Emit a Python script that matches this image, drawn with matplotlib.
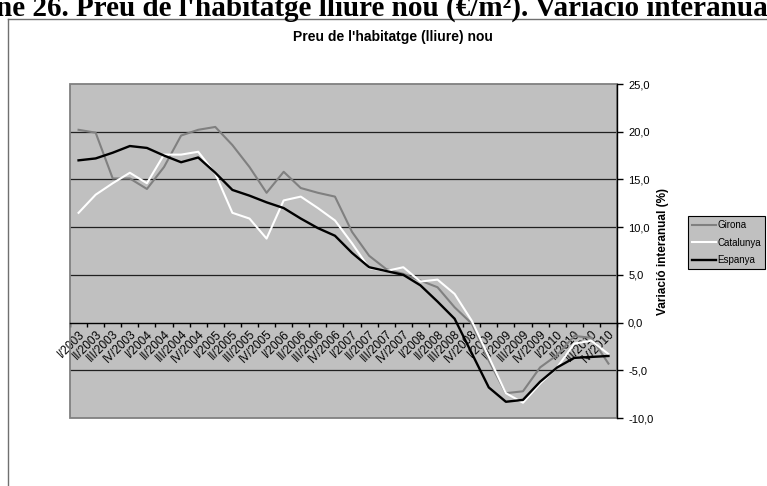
import matplotlib
matplotlib.use("Agg")
import matplotlib.pyplot as plt
from matplotlib.lines import Line2D
from matplotlib.patches import Rectangle

plt.rcParams['font.family'] = ['Liberation Sans', 'DejaVu Sans']

quarters = ["I", "II", "III", "IV"]
years = [2003, 2004, 2005, 2006, 2007, 2008, 2009, 2010]
categories = [f"{q}/{y}" for y in years for q in quarters]

girona = [20.2, 19.9, 15.1, 15.1, 14.0, 16.3, 19.6, 20.2, 20.5, 18.6, 16.3, 13.6,
          15.8, 14.1, 13.6, 13.2, 9.5, 7.0, 5.6, 5.1, 4.4, 3.7, 1.6, -0.1,
          -4.0, -7.4, -7.2, -4.7, -3.4, -1.4, -1.6, -4.3]
catalunya = [11.5, 13.4, 14.6, 15.7, 14.6, 17.6, 17.6, 17.9, 15.6, 11.5, 10.9, 8.8,
             12.8, 13.2, 12.0, 10.7, 8.3, 5.7, 5.4, 5.8, 4.3, 4.5, 3.0, 0.2,
             -3.6, -7.4, -8.4, -6.4, -4.7, -2.2, -1.9, -3.3]
espanya = [17.0, 17.2, 17.8, 18.5, 18.3, 17.5, 16.8, 17.3, 15.7, 13.9, 13.3, 12.6,
           12.0, 10.9, 9.9, 9.1, 7.3, 5.8, 5.4, 5.0, 3.9, 2.2, 0.4, -3.2,
           -6.8, -8.3, -8.1, -6.2, -4.7, -3.7, -3.6, -3.5]
series_names = ["Girona", "Catalunya", "Espanya"]
y_ticks = [-10, -5, 0, 5, 10, 15, 20, 25]

W, H = 767, 486
fig = plt.figure(figsize=(W / 100, H / 100), dpi=100)

# Outer heading (clipped at the page edges in the reference)
fig.text(-4 / W, 1 - 16 / H,
         "ne 26. Preu de l'habitatge lliure nou (€/m²). Variació interanual",
         family='Liberation Serif', weight='bold', size=21, ha='left', va='baseline')

# chart frame
fig.add_artist(Line2D([8 / W, 8 / W], [0, 1 - 19 / H], transform=fig.transFigure,
                      color='#707070', lw=1))
fig.add_artist(Line2D([8 / W, 1], [1 - 19 / H, 1 - 19 / H], transform=fig.transFigure,
                      color='#707070', lw=1))

ax = fig.add_axes([70 / W, 68 / H, 547 / W, 334 / H])
ax.set_facecolor('#C0C0C0')
x = list(range(len(categories)))

l1, = ax.plot(x, girona, color='#808080', lw=1.5, zorder=3)
l2, = ax.plot(x, catalunya, color='white', lw=1.5, zorder=4)
l3, = ax.plot(x, espanya, color='black', lw=1.7, zorder=5)

ax.set_xlim(-0.5, len(categories) - 0.5)
ax.set_ylim(-10, 25)

for v in y_ticks:
    if v not in (-10, 0, 25):
        ax.axhline(v, color='#202020', lw=0.9, zorder=1)

for s in ['left', 'top']:
    ax.spines[s].set_visible(False)
ax.add_patch(Rectangle((0, 0), 1, 1, transform=ax.transAxes, fill=False,
                       edgecolor='#808080', lw=1.3, zorder=2, clip_on=False))
ax.spines['bottom'].set_position(('data', 0))
ax.spines['bottom'].set_color('black')
ax.spines['bottom'].set_linewidth(1)
ax.spines['bottom'].set_zorder(2.5)
ax.spines['right'].set_color('black')
ax.spines['right'].set_linewidth(1)

ax.yaxis.tick_right()
ax.set_yticks(y_ticks)
ax.set_yticklabels([f"{v:.1f}".replace('.', ',') for v in y_ticks], fontsize=8)
ax.tick_params(axis='y', direction='out', length=4, width=1, pad=4, colors='black')

ax.set_xticks(x)
ax.set_xticklabels(categories, rotation=45, ha='right', va='top',
                   rotation_mode='anchor', fontsize=8.5)
ax.set_xticks([i - 0.5 for i in range(len(categories) + 1)], minor=True)
ax.tick_params(axis='x', which='major', length=0, pad=4)
ax.tick_params(axis='x', which='minor', length=3, width=1, direction='out', colors='black')

fig.text(393 / W, 1 - 37 / H, "Preu de l'habitatge (lliure) nou", ha='center',
         va='center', weight='bold', fontsize=10)
fig.text(663 / W, 1 - 251 / H, "Variació interanual (%)", rotation=90, ha='center',
         va='center', weight='bold', fontsize=8.5)

leg = fig.legend([l1, l2, l3], series_names, loc='upper left',
                 bbox_to_anchor=(688 / W, 1 - 216 / H), fontsize=7,
                 frameon=True, fancybox=False, facecolor='#C0C0C0', edgecolor='black',
                 handlelength=2.4, handletextpad=0.15, labelspacing=0.75,
                 borderpad=0.45, borderaxespad=0)
leg.get_frame().set_linewidth(0.8)
leg.get_frame().set_alpha(None)

fig.savefig('out.png', dpi=100)
